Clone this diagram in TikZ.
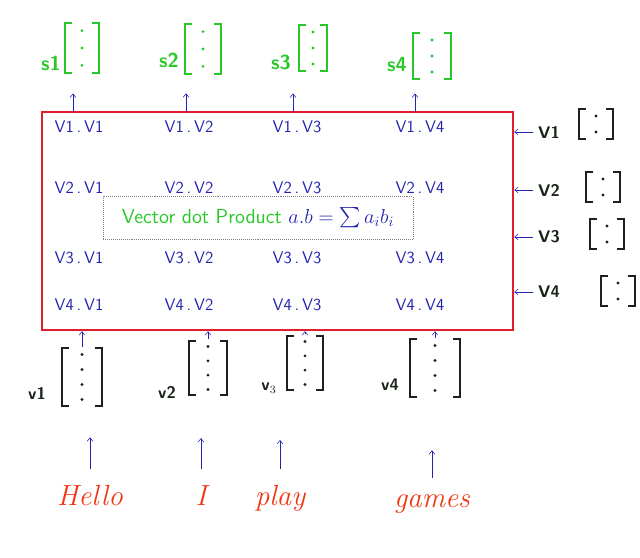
\documentclass[tikz,border=0pt]{standalone}
\usepackage{amsmath}
\usepackage{tikz}
\usetikzlibrary{arrows.meta, positioning, calc}
\definecolor{dotblue}{RGB}{35,35,175}
\definecolor{sgreen}{RGB}{40,200,40}
\definecolor{boxred}{RGB}{225,30,45}
\definecolor{wordred}{RGB}{240,55,20}
\definecolor{vecblack}{RGB}{25,35,25}

\begin{document}
\begin{tikzpicture}[x=0.025cm, y=-0.025cm,
  prod/.style={text=dotblue, font=\large\sffamily},
  slab/.style={text=sgreen, font=\Large\sffamily\bfseries},
  vlab/.style={text=vecblack, font=\large\sffamily\bfseries},
  word/.style={text=wordred, font=\huge\itshape, anchor=base},
  colvec/.style n args={3}{rectangle, inner sep=0pt,
    minimum width=#1, minimum height=#2,
    path picture={
      \draw[line width=1.5pt]
        ([xshift=6pt,yshift=-1pt]path picture bounding box.north west)
        -| ([xshift=1pt,yshift=1pt]path picture bounding box.south west) -- ++(5pt,0);
      \draw[line width=1.5pt]
        ([xshift=-6pt,yshift=-1pt]path picture bounding box.north east)
        -| ([xshift=-1pt,yshift=1pt]path picture bounding box.south east) -- ++(-5pt,0);
      \foreach \k in {1,...,#3}
        \fill ($(path picture bounding box.north)!{(\k-0.5)/#3}!(path picture bounding box.south)$) circle (1.1pt);
    }},
  arr/.style={-{Straight Barb[length=2.5pt, width=4pt]}, thin, draw=dotblue}
]
\useasboundingbox (0,0) rectangle (640,558);

% scores s1..s4
\node[colvec={0.9cm}{1.3cm}{3}, color=sgreen]  (s1) at (82,48) {};
\node[colvec={0.95cm}{1.3cm}{3}, color=sgreen] (s2) at (203,49) {};
\node[colvec={0.75cm}{1.2cm}{3}, color=sgreen] (s3) at (313,48) {};
\node[colvec={1cm}{1.2cm}{3}, color=sgreen]    (s4) at (432,56) {};
\node[slab] (ls1) at (51,63)  {s1};
\node[slab] (ls2) at (169,60) {s2};
\node[slab] (ls3) at (281,62) {s3};
\node[slab] (ls4) at (397,65) {s4};

% dot products
\node[draw=boxred, line width=1.6pt, inner sep=0pt,
      minimum width=11.775cm, minimum height=5.45cm] (box) at (277.5,221) {};
\foreach \r/\y in {1/127,2/188,3/258,4/305}
  \foreach \c/\x in {1/79,2/189,3/297,4/420}
    \node[prod] (p\r\c) at (\x,\y) {V\r\,.\,V\c};

\node[draw=gray, densely dotted, minimum width=7.75cm, minimum height=1.08cm,
      font=\Large\sffamily] (formula) at (258,218)
  {\textcolor{sgreen}{Vector dot Product}\ \textcolor{dotblue}{$a.b = \sum a_ib_i$}};

\foreach \i/\x/\g in {1/73/0.48cm, 2/186/0.45cm, 3/293/0.53cm, 4/415/0.33cm} {
  \coordinate (t\i) at (\x,112);
  \draw[arr, shorten >=\g] (t\i) -- (t\i |- s\i.south);
}

% keys on the right
\foreach \i/\y/\x/\ly in {1/124/596/132, 2/187/603/190, 3/234/607/237, 4/291/618/292} {
  \node[colvec={0.9cm}{0.8cm}{2}, color=vecblack] (rv\i) at (\x,\y) {};
  \node[vlab] (rl\i) at (549,\ly) {V\i};
  \draw[arr] (rl\i.west) -- (rl\i.west -| box.east);
}

% input vectors
\node[colvec={1.08cm}{1.5cm}{4}, color=vecblack]  (bv1) at (82,377) {};
\node[colvec={1.03cm}{1.43cm}{4}, color=vecblack] (bv2) at (208,368) {};
\node[colvec={0.95cm}{1.43cm}{4}, color=vecblack] (bv3) at (305,363) {};
\node[colvec={1.33cm}{1.5cm}{4}, color=vecblack]  (bv4) at (435,368) {};
\node[vlab] (lv1) at (37,393)  {v1};
\node[vlab] (lv2) at (167,392) {v2};
\node[vlab] (lv3) at (269,388) {v$_3$};
\node[vlab] (lv4) at (390,385) {v4};
\foreach \i in {1,...,4}
  \draw[arr] (bv\i.north) -- (bv\i.north |- box.south);

% words
\node[word] (w1) at (90,505)  {Hello};
\node[word] (w2) at (201,505) {I};
\node[word] (w3) at (280,505) {play};
\node[word] (w4) at (432,507) {games};
\foreach \i/\g in {1/0.75cm, 2/1.03cm, 3/1.2cm, 4/1.3cm}
  \draw[arr, shorten <=8pt, shorten >=\g] (w\i.north) -- (w\i.north |- bv\i.south);
\end{tikzpicture}
\end{document}
